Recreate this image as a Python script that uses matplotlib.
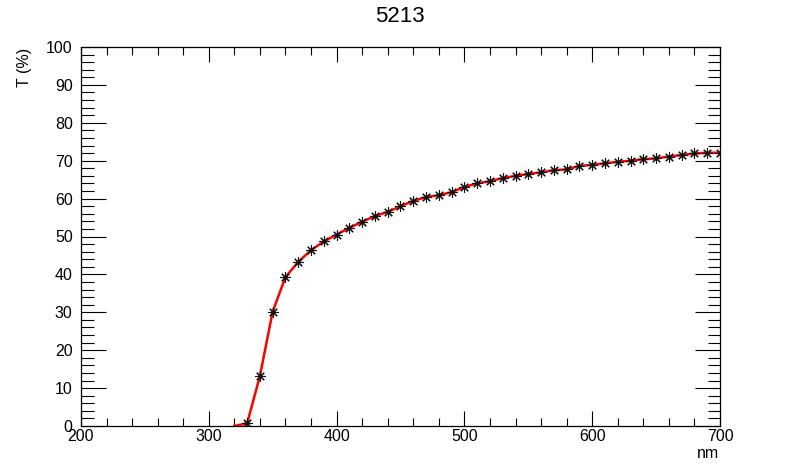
import numpy as np
import matplotlib
matplotlib.use("Agg")
import matplotlib.pyplot as plt
from matplotlib.ticker import MultipleLocator

plt.rcParams['font.family'] = ['Liberation Sans', 'DejaVu Sans']

# wavelength (nm) and transmission (%)
wavelength = [320, 330, 340, 350, 360, 370, 380, 390, 400, 410, 420, 430, 440, 450,
              460, 470, 480, 490, 500, 510, 520, 530, 540, 550, 560, 570, 580, 590,
              600, 610, 620, 630, 640, 650, 660, 670, 680, 690, 700]
transmission = [0.0, 0.7, 13.2, 30.2, 39.3, 43.3, 46.4, 48.7, 50.5, 52.3, 53.9, 55.4,
                56.5, 58.0, 59.4, 60.4, 60.9, 61.7, 63.1, 64.0, 64.6, 65.4, 66.0, 66.5,
                66.9, 67.5, 67.7, 68.6, 68.9, 69.3, 69.7, 70.0, 70.4, 70.6, 71.1, 71.5,
                71.9, 72.1, 72.1]
title = "5213"

fig = plt.figure(figsize=(8, 4.74), dpi=100)
ax = fig.add_axes([81/800, 48/474, 639/800, 379/474])

ax.plot(wavelength, transmission, color='red', lw=1.8, zorder=2)
ax.plot(wavelength, transmission, ls='none', marker=(8, 2, 0), ms=7.5, mew=0.8,
        color='#111111', markevery=slice(1, None), zorder=3)

ax.set_xlim(200, 700)
ax.set_ylim(0, 100)
ax.xaxis.set_major_locator(MultipleLocator(100))
ax.xaxis.set_minor_locator(MultipleLocator(20))
ax.yaxis.set_major_locator(MultipleLocator(10))
ax.yaxis.set_minor_locator(MultipleLocator(2))

ax.tick_params(axis='both', which='both', direction='in', top=True, right=True,
               labelsize=11.5, width=0.8, colors='black')
ax.tick_params(axis='x', which='major', length=11, pad=2)
ax.tick_params(axis='x', which='minor', length=6)
ax.tick_params(axis='y', which='major', length=18, pad=6)
ax.tick_params(axis='y', which='minor', length=9)
for s in ax.spines.values():
    s.set_linewidth(0.9)

fig.text(0.5, 1 - 17/474, title, ha='center', va='center', fontsize=16)
fig.text(25/800, 1 - 48/474, "T (%)", rotation=90, ha='center', va='top', fontsize=11.5)
fig.text(708/800, 1 - 453/474, "nm", ha='center', va='center', fontsize=11.5)

fig.savefig("out.png", dpi=100)
